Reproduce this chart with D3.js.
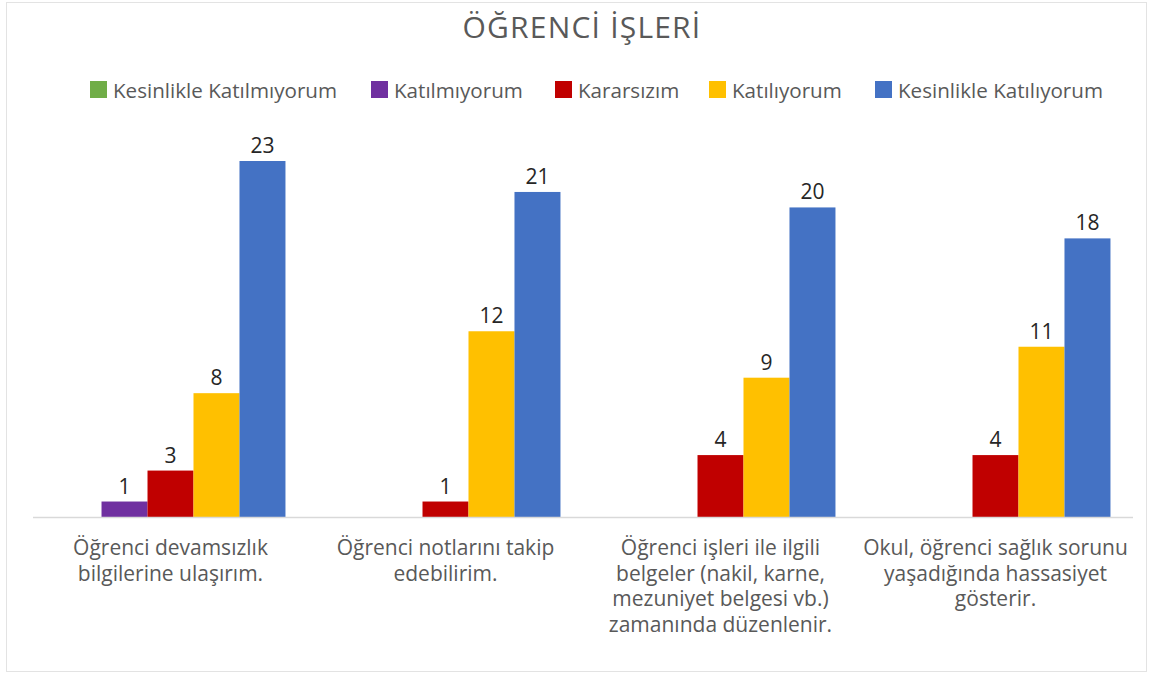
<!DOCTYPE html>
<html>
<head>
<meta charset="utf-8">
<script src="https://cdn.jsdelivr.net/npm/d3@7"></script>
<style>
  body { margin: 0; background: #fff; }
  text { font-family: "Open Sans", sans-serif; }
</style>
</head>
<body>
<svg id="chart" width="1150" height="675"></svg>
<script>
// chart data
var categories = [
    'Öğrenci devamsızlık\nbilgilerine ulaşırım.',
    'Öğrenci notlarını takip\nedebilirim.',
    'Öğrenci işleri ile ilgili\nbelgeler (nakil, karne,\nmezuniyet belgesi vb.)\nzamanında düzenlenir.',
    'Okul, öğrenci sağlık sorunu\nyaşadığında hassasiyet\ngösterir.'
];
var seriesNames = [ 'Kesinlikle Katılmıyorum', 'Katılmıyorum', 'Kararsızım', 'Katılıyorum', 'Kesinlikle Katılıyorum' ];
var seriesColors = [ '#70ad47', '#7030a0', '#c00000', '#ffc000', '#4472c4' ];
var kesinlikleKatilmiyorum = [ 0, 0, 0, 0 ];
var katilmiyorum = [ 1, 0, 0, 0 ];
var kararsizim = [ 3, 1, 4, 4 ];
var katiliyorum = [ 8, 12, 9, 11 ];
var kesinlikleKatiliyorum = [ 23, 21, 20, 18 ];
var seriesValues = [ kesinlikleKatilmiyorum, katilmiyorum, kararsizim, katiliyorum, kesinlikleKatiliyorum ];

var svg = d3.select( '#chart' );

// outer frame
svg.append( 'rect' )
    .attr( 'x', 6.5 ).attr( 'y', 2.5 )
    .attr( 'width', 1140 ).attr( 'height', 669 )
    .attr( 'fill', '#fff' ).attr( 'stroke', '#e3e3e3' );

// title
svg.append( 'text' )
    .attr( 'x', 582 ).attr( 'y', 38 )
    .attr( 'text-anchor', 'middle' )
    .attr( 'font-size', 30 )
    .attr( 'letter-spacing', 1.2 )
    .attr( 'fill', '#595959' )
    .text( 'ÖĞRENCİ İŞLERİ' );

var plot = { left: 33, right: 1133, bottom: 517 };

var x0 = d3.scaleBand()
    .domain( d3.range( categories.length ) )
    .range( [ plot.left, plot.right ] );
var x1 = d3.scaleBand()
    .domain( d3.range( seriesNames.length ) )
    .range( [ 0, x0.bandwidth() ] )
    .paddingOuter( 0.49 );
var y = d3.scaleLinear()
    .domain( [ 0, 23 ] )
    .range( [ plot.bottom, 161 ] );

// bars
var groups = svg.selectAll( 'g.group' )
    .data( categories )
    .enter().append( 'g' )
    .attr( 'class', 'group' )
    .attr( 'transform', function( d, i ) { return 'translate(' + x0( i ) + ',0)'; } );

groups.each( function( cat, ci ) {
    var g = d3.select( this );
    seriesValues.forEach( function( values, si ) {
        var v = values[ ci ];
        if ( !v ) return;
        g.append( 'rect' )
            .attr( 'x', x1( si ) )
            .attr( 'y', y( v ) )
            .attr( 'width', x1.bandwidth() )
            .attr( 'height', y( 0 ) - y( v ) )
            .attr( 'fill', seriesColors[ si ] );
        g.append( 'text' )
            .attr( 'x', x1( si ) + x1.bandwidth() / 2 )
            .attr( 'y', y( v ) - 8 )
            .attr( 'text-anchor', 'middle' )
            .attr( 'font-size', 21 )
            .attr( 'fill', '#262626' )
            .text( v );
    });
});

// baseline
svg.append( 'line' )
    .attr( 'x1', plot.left ).attr( 'x2', plot.right )
    .attr( 'y1', y( 0 ) + 0.5 ).attr( 'y2', y( 0 ) + 0.5 )
    .attr( 'stroke', '#d9d9d9' ).attr( 'stroke-width', 1.5 );

// category labels
groups.append( 'text' )
    .attr( 'text-anchor', 'middle' )
    .attr( 'font-size', 21 )
    .attr( 'fill', '#595959' )
    .each( function( d ) {
        var t = d3.select( this );
        d.split( '\n' ).forEach( function( line, li ) {
            t.append( 'tspan' )
                .attr( 'x', x0.bandwidth() / 2 )
                .attr( 'y', 555 + li * 25.5 )
                .text( line );
        });
    });

// legend
var legendX = [ 90, 371, 555, 709, 875 ];
var legend = svg.selectAll( 'g.legend' )
    .data( seriesNames )
    .enter().append( 'g' )
    .attr( 'class', 'legend' )
    .attr( 'transform', function( d, i ) { return 'translate(' + legendX[ i ] + ',90)'; } );
legend.append( 'rect' )
    .attr( 'x', 0 ).attr( 'y', -9 )
    .attr( 'width', 17 ).attr( 'height', 17 )
    .attr( 'fill', function( d, i ) { return seriesColors[ i ]; } );
legend.append( 'text' )
    .attr( 'x', 23 ).attr( 'y', 7.5 )
    .attr( 'font-size', 20.6 )
    .attr( 'fill', '#595959' )
    .text( function( d ) { return d; } );
</script>
</body>
</html>
